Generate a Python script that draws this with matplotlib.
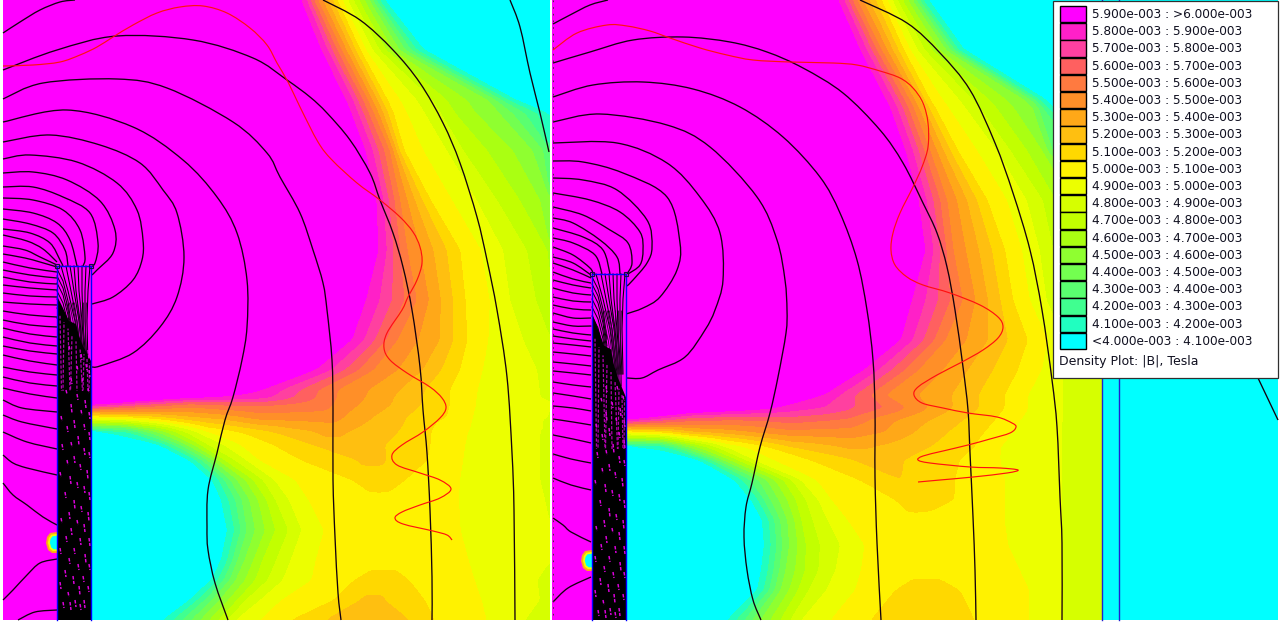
import numpy as np
import matplotlib
matplotlib.use("Agg")
import matplotlib.pyplot as plt
from matplotlib.colors import ListedColormap, BoundaryNorm
from matplotlib.patches import Rectangle, Polygon, PathPatch
from matplotlib.path import Path

# ---------- legend ----------
legend_labels = ["5.900e-003 : >6.000e-003", "5.800e-003 : 5.900e-003", "5.700e-003 : 5.800e-003",
                 "5.600e-003 : 5.700e-003", "5.500e-003 : 5.600e-003", "5.400e-003 : 5.500e-003",
                 "5.300e-003 : 5.400e-003", "5.200e-003 : 5.300e-003", "5.100e-003 : 5.200e-003",
                 "5.000e-003 : 5.100e-003", "4.900e-003 : 5.000e-003", "4.800e-003 : 4.900e-003",
                 "4.700e-003 : 4.800e-003", "4.600e-003 : 4.700e-003", "4.500e-003 : 4.600e-003",
                 "4.400e-003 : 4.500e-003", "4.300e-003 : 4.400e-003", "4.200e-003 : 4.300e-003",
                 "4.100e-003 : 4.200e-003", "<4.000e-003 : 4.100e-003"]
legend_colors = ["#ff00ff", "#ff20c8", "#ff40a0", "#ff6060", "#ff7a40", "#ff8f28", "#ffa818", "#ffbf10",
                 "#ffd800", "#fff200", "#ecff00", "#d6ff00", "#c2ff00", "#aaff12", "#8fff30", "#73ff50",
                 "#5aff70", "#40ff90", "#20ffc0", "#00ffff"]
legend_title = "Density Plot: |B|, Tesla"
levels = [0, 4.1, 4.2, 4.3, 4.4, 4.5, 4.6, 4.7, 4.8, 4.9, 5.0, 5.1, 5.2, 5.3, 5.4, 5.5, 5.6, 5.7, 5.8, 5.9, 9]

# ---------- |B| profiles, mT, read along pixel rows: (row y, [(x, value), ...]) ----------
left_profiles = [
    (0,   [(92, 6.6), (303, 5.9), (318, 5.5), (340, 5.05), (370, 4.5), (383, 4.1), (550, 3.6)]),
    (50,  [(92, 6.6), (323, 5.9), (342, 5.5), (363, 5.05), (400, 4.5), (423, 4.1), (550, 3.6)]),
    (100, [(92, 6.6), (348, 5.9), (368, 5.5), (387, 5.1), (400, 5.0), (417, 4.9), (433, 4.8), (447, 4.7), (467, 4.6), (490, 4.5), (515, 4.1), (550, 3.9)]),
    (113, [(92, 6.6), (353, 5.9), (374, 5.5), (393, 5.1), (407, 5.0), (425, 4.9), (441, 4.8), (455, 4.7), (476, 4.6), (500, 4.5), (550, 4.1)]),
    (150, [(92, 6.6), (367, 5.9), (390, 5.5), (403, 5.1), (423, 5.0), (447, 4.9), (463, 4.8), (487, 4.7), (513, 4.6), (533, 4.5), (550, 4.33)]),
    (200, [(92, 6.6), (378, 5.9), (400, 5.5), (430, 5.1), (452, 5.0), (477, 4.9), (497, 4.8), (520, 4.7), (550, 4.55)]),
    (250, [(92, 6.6), (380, 5.9), (407, 5.5), (460, 5.1), (481, 5.0), (503, 4.9), (527, 4.8), (548, 4.7), (550, 4.68)]),
    (300, [(92, 6.6), (367, 5.9), (417, 5.5), (465, 5.1), (490, 5.0), (510, 4.9), (536, 4.8), (550, 4.75)]),
    (340, [(92, 6.6), (353, 5.9), (397, 5.5), (440, 5.3), (467, 5.1), (488, 5.0), (523, 4.9), (550, 4.85)]),
    (370, [(92, 6.6), (317, 5.9), (373, 5.5), (423, 5.3), (460, 5.1), (482, 5.0), (537, 4.9), (550, 4.88)]),
    (390, [(92, 6.5), (263, 5.9), (337, 5.5), (400, 5.3), (450, 5.1), (477, 5.0), (540, 4.9), (550, 4.88)]),
    (397, [(92, 6.3), (170, 6.0), (230, 5.9), (263, 5.85), (337, 5.5), (400, 5.28), (450, 5.1), (476, 5.0), (540, 4.9)]),
    (405, [(92, 5.9), (140, 5.7), (190, 5.55), (223, 5.6), (273, 5.6), (323, 5.55), (343, 5.45), (407, 5.25), (450, 5.1), (475, 5.0), (547, 4.9)]),
    (417, [(92, 5.05), (140, 5.15), (190, 5.3), (223, 5.35), (257, 5.45), (333, 5.45), (357, 5.35), (423, 5.15), (447, 5.1), (472, 5.0), (540, 4.9)]),
    (432, [(92, 4.1), (123, 4.15), (157, 4.5), (180, 4.75), (207, 5.0), (240, 5.1), (290, 5.25), (333, 5.33), (373, 5.25), (423, 5.15), (440, 5.05), (468, 5.0), (540, 4.9)]),
    (445, [(92, 3.6), (160, 4.1), (190, 4.55), (207, 4.8), (240, 5.0), (273, 5.1), (333, 5.25), (370, 5.22), (423, 5.15), (438, 5.05), (465, 5.0), (540, 4.9)]),
    (460, [(92, 3.5), (190, 4.1), (207, 4.4), (223, 4.7), (257, 5.0), (300, 5.1), (333, 5.17), (373, 5.22), (420, 5.15), (435, 5.05), (463, 5.0), (540, 4.9)]),
    (480, [(92, 3.5), (213, 4.1), (233, 4.45), (257, 4.75), (280, 4.95), (310, 5.05), (353, 5.1), (373, 5.15), (400, 5.12), (420, 5.05), (460, 5.0), (540, 4.9)]),
    (500, [(92, 3.5), (222, 4.1), (245, 4.45), (275, 4.8), (300, 4.98), (330, 5.05), (380, 5.07), (440, 5.05), (458, 5.0), (520, 4.95), (545, 4.9)]),
    (530, [(92, 3.5), (228, 4.1), (250, 4.45), (275, 4.7), (308, 4.95), (330, 5.02), (390, 5.04), (450, 5.02), (460, 5.0), (550, 4.92)]),
    (560, [(92, 3.5), (222, 4.1), (240, 4.45), (262, 4.7), (290, 4.9), (315, 5.0), (340, 5.04), (385, 5.06), (450, 5.04), (468, 5.0), (550, 4.92)]),
    (580, [(92, 3.5), (212, 4.1), (235, 4.5), (260, 4.75), (290, 4.95), (320, 5.02), (335, 5.05), (353, 5.1), (380, 5.14), (410, 5.1), (430, 5.05), (475, 5.0), (550, 4.88)]),
    (600, [(92, 3.5), (190, 4.1), (215, 4.45), (250, 4.85), (280, 5.0), (310, 5.05), (335, 5.1), (350, 5.18), (370, 5.22), (400, 5.18), (425, 5.1), (440, 5.05), (482, 5.0), (530, 4.92), (550, 4.88)]),
    (620, [(92, 3.6), (163, 4.1), (200, 4.5), (240, 4.95), (280, 5.05), (290, 5.1), (325, 5.2), (370, 5.3), (410, 5.2), (435, 5.1), (450, 5.02), (488, 5.0), (525, 4.9), (550, 4.85)]),
]
right_profiles = [
    (0,   [(627, 6.6), (840, 5.9), (857, 5.5), (885, 5.05), (913, 4.5), (927, 4.1), (1102, 3.6)]),
    (50,  [(627, 6.6), (862, 5.9), (882, 5.5), (907, 5.05), (947, 4.5), (963, 4.1), (1102, 3.6)]),
    (100, [(627, 6.6), (888, 5.9), (910, 5.5), (930, 5.1), (943, 5.0), (960, 4.9), (973, 4.8), (990, 4.7), (1007, 4.6), (1027, 4.5), (1045, 4.1), (1102, 3.8)]),
    (108, [(627, 6.6), (892, 5.9), (914, 5.5), (935, 5.1), (949, 5.0), (966, 4.9), (980, 4.8), (997, 4.7), (1014, 4.6), (1034, 4.5), (1053, 4.1), (1102, 3.9)]),
    (150, [(627, 6.6), (907, 5.9), (930, 5.5), (957, 5.1), (977, 5.0), (997, 4.9), (1010, 4.8), (1027, 4.7), (1043, 4.6), (1053, 4.38), (1102, 4.2)]),
    (200, [(627, 6.6), (920, 5.9), (947, 5.5), (987, 5.1), (1007, 5.0), (1027, 4.9), (1043, 4.8), (1053, 4.72), (1102, 4.4)]),
    (250, [(627, 6.6), (927, 5.9), (953, 5.5), (1005, 5.1), (1022, 5.0), (1040, 4.9), (1053, 4.8), (1102, 4.6)]),
    (300, [(627, 6.6), (913, 5.9), (963, 5.5), (1013, 5.1), (1030, 5.0), (1047, 4.9), (1053, 4.85), (1102, 4.8)]),
    (340, [(627, 6.6), (902, 5.9), (945, 5.5), (988, 5.3), (1028, 5.1), (1048, 5.0), (1062, 4.9), (1102, 4.85)]),
    (370, [(627, 6.6), (865, 5.9), (918, 5.5), (968, 5.3), (1018, 5.1), (1042, 5.0), (1062, 4.9), (1102, 4.85)]),
    (395, [(627, 6.6), (825, 5.9), (885, 5.5), (952, 5.3), (1005, 5.1), (1028, 5.0), (1062, 4.9), (1102, 4.85)]),
    (408, [(627, 6.4), (690, 6.1), (760, 5.95), (795, 5.85), (825, 5.8), (885, 5.6), (940, 5.35), (1000, 5.12), (1028, 5.0), (1062, 4.9), (1102, 4.85)]),
    (420, [(627, 5.9), (665, 5.72), (692, 5.62), (725, 5.6), (757, 5.6), (790, 5.65), (850, 5.58), (880, 5.45), (930, 5.3), (990, 5.12), (1020, 5.0), (1062, 4.9), (1102, 4.85)]),
    (432, [(627, 5.05), (665, 5.15), (692, 5.3), (725, 5.35), (757, 5.42), (790, 5.47), (850, 5.46), (885, 5.4), (930, 5.25), (985, 5.1), (1010, 5.0), (1062, 4.9), (1102, 4.85)]),
    (447, [(627, 4.1), (658, 4.1), (692, 4.55), (725, 4.9), (757, 5.05), (790, 5.2), (850, 5.32), (885, 5.28), (930, 5.2), (975, 5.1), (1000, 5.0), (1062, 4.9), (1102, 4.85)]),
    (460, [(627, 3.6), (700, 4.1), (725, 4.55), (757, 4.95), (790, 5.05), (850, 5.2), (890, 5.22), (940, 5.15), (960, 5.1), (1000, 5.0), (1062, 4.9), (1102, 4.85)]),
    (480, [(627, 3.5), (735, 4.1), (750, 4.3), (775, 4.6), (800, 4.9), (825, 5.05), (860, 5.1), (900, 5.2), (930, 5.15), (955, 5.1), (980, 5.05), (1005, 5.0), (1062, 4.9), (1102, 4.85)]),
    (500, [(627, 3.5), (752, 4.1), (770, 4.4), (800, 4.75), (830, 5.0), (860, 5.05), (890, 5.09), (920, 5.15), (950, 5.12), (965, 5.05), (1005, 5.0), (1062, 4.9), (1102, 4.85)]),
    (520, [(627, 3.5), (763, 4.1), (780, 4.4), (805, 4.75), (835, 4.95), (860, 5.05), (915, 5.07), (960, 5.05), (1005, 5.0), (1062, 4.9), (1102, 4.85)]),
    (545, [(627, 3.5), (765, 4.1), (785, 4.45), (810, 4.75), (850, 4.95), (870, 5.02), (925, 5.04), (1000, 5.02), (1008, 5.0), (1062, 4.9), (1102, 4.85)]),
    (570, [(627, 3.5), (762, 4.1), (785, 4.5), (810, 4.75), (835, 4.9), (860, 5.0), (900, 5.05), (925, 5.07), (1010, 5.02), (1020, 5.0), (1062, 4.9), (1102, 4.85)]),
    (590, [(627, 3.5), (758, 4.1), (780, 4.5), (805, 4.78), (835, 4.95), (855, 5.0), (880, 5.07), (895, 5.1), (920, 5.14), (950, 5.12), (970, 5.08), (1030, 5.0), (1062, 4.9), (1102, 4.85)]),
    (620, [(627, 3.6), (728, 4.1), (760, 4.5), (800, 4.9), (830, 5.0), (855, 5.05), (870, 5.1), (920, 5.18), (975, 5.1), (1000, 5.05), (1030, 5.0), (1062, 4.9), (1102, 4.85)]),
]

# ---------- flux lines, read as pixel positions ----------
left_flux = [
    [(3, 33), (20, 22), (40, 10), (60, 2), (75, 0)],
    [(3, 70), (57, 50), (117, 36), (193, 40), (253, 58), (287, 80), (310, 97), (327, 113), (350, 140), (370, 173), (380, 200), (393, 233), (403, 267), (412, 310), (420, 367), (423, 410), (427, 453), (430, 510), (432, 577), (432, 620)],
    [(323, 0), (360, 20), (393, 50), (420, 83), (443, 123), (460, 163), (477, 217), (487, 260), (497, 310), (507, 377), (512, 453), (514, 510), (515, 620)],
    [(510, 0), (520, 27), (530, 73), (540, 113), (549, 152)],
    [(3, 99), (43, 83), (117, 79), (167, 88), (233, 122), (267, 153), (280, 177), (300, 213), (313, 250), (323, 283), (327, 310), (332, 360), (333, 410), (333, 480), (335, 537), (338, 593), (341, 620)],
    [(3, 122), (67, 110), (133, 127), (183, 160), (217, 197), (237, 233), (247, 280), (247, 327), (242, 360), (233, 397), (225, 420), (217, 453), (208, 490), (207, 527), (208, 550), (215, 583), (228, 620)],
    [(3, 142), (50, 135), (100, 145), (140, 163), (163, 190), (177, 213), (184, 257), (177, 297), (160, 327), (133, 353), (100, 366), (92, 367)],
    [(3, 159), (30, 155), (77, 162), (117, 183), (137, 210), (143, 240), (142, 260), (133, 280), (113, 297), (92, 304)],
    [(3, 173), (33, 172), (67, 180), (100, 201), (115, 230), (113, 253), (97, 270), (92, 275)],
    [(3, 187), (33, 187), (63, 197), (90, 213), (98, 243), (95, 263), (90, 267)],
    [(3, 198), (33, 200), (63, 210), (80, 230), (85, 257), (83, 266)],
    [(3, 209), (33, 213), (57, 223), (70, 240), (77, 266)],
    [(3, 219), (30, 224), (53, 233), (65, 250), (68, 266)],
    [(3, 229), (30, 233), (50, 243), (60, 260), (63, 266)],
    [(3, 235), (27, 241), (43, 249), (57, 262)],
    [(3, 246), (25, 250), (40, 257), (57, 265)],
    [(3, 254), (25, 258), (40, 262), (57, 267)],
    [(3, 262), (30, 268), (57, 272)], [(3, 270), (30, 275), (57, 278)], [(3, 277), (30, 282), (57, 284)],
    [(3, 285), (30, 288), (57, 290)], [(3, 293), (30, 296), (57, 297)], [(3, 302), (30, 304), (57, 305)],
    [(3, 311), (30, 315), (57, 317)], [(3, 320), (30, 325), (57, 327)], [(3, 328), (30, 334), (57, 337)],
    [(3, 337), (30, 343), (57, 346)], [(3, 346), (30, 351), (57, 354)], [(3, 355), (30, 361), (57, 365)],
    [(3, 367), (30, 372), (57, 375)], [(3, 377), (30, 383), (57, 386)], [(3, 388), (30, 394), (57, 398)],
    [(3, 400), (22, 408), (57, 412)], [(3, 415), (22, 422), (57, 429)], [(3, 432), (27, 442), (57, 449)],
    [(3, 455), (13, 463), (27, 468), (57, 475)], [(3, 483), (13, 495), (27, 505), (43, 517), (57, 525)],
    [(3, 600), (13, 590), (27, 575), (40, 563), (57, 559)], [(18, 620), (35, 612), (57, 610)],
]
right_flux = [
    [(553, 24), (570, 15), (590, 5), (608, 0)],
    [(553, 63), (590, 52), (633, 40), (683, 37), (730, 42), (767, 52), (803, 68), (843, 93), (880, 130), (903, 163), (923, 203), (937, 233), (947, 267), (955, 310), (963, 367), (968, 410), (970, 453), (973, 517), (975, 570), (976, 620)],
    [(860, 0), (907, 23), (940, 53), (970, 90), (995, 143), (1013, 193), (1030, 250), (1042, 310), (1052, 380), (1057, 427), (1060, 497), (1062, 543), (1062, 620)],
    [(553, 97), (593, 85), (643, 82), (693, 89), (740, 107), (783, 137), (820, 177), (840, 213), (857, 260), (867, 310), (873, 360), (875, 410), (875, 477), (877, 543), (881, 620)],
    [(553, 122), (600, 114), (667, 125), (710, 147), (757, 197), (777, 240), (785, 280), (787, 310), (786, 333), (778, 377), (770, 413), (760, 447), (752, 483), (746, 507), (744, 537), (747, 570), (753, 600), (761, 620)],
    [(553, 143), (617, 143), (667, 163), (700, 197), (720, 233), (723, 280), (715, 310), (705, 330), (685, 357), (658, 370), (642, 378), (627, 378)],
    [(553, 161), (583, 162), (623, 173), (667, 197), (680, 243), (677, 270), (660, 297), (643, 308), (626, 314)],
    [(553, 178), (583, 180), (617, 190), (647, 220), (652, 247), (647, 263), (633, 280), (627, 286)],
    [(553, 193), (590, 200), (620, 212), (640, 232), (643, 250), (640, 265), (628, 274)],
    [(553, 207), (583, 215), (610, 230), (628, 243), (632, 263), (627, 274)],
    [(553, 218), (573, 223), (600, 240), (617, 257), (620, 274)],
    [(553, 228), (583, 237), (603, 250), (610, 274)],
    [(553, 238), (573, 243), (595, 255), (602, 274)],
    [(553, 247), (573, 255), (590, 268), (593, 274)],
    [(553, 257), (573, 263), (591, 275)],
    [(553, 263), (573, 270), (591, 278)],
    [(553, 272), (573, 279), (591, 283)], [(553, 280), (573, 285), (591, 288)], [(553, 288), (573, 293), (591, 295)],
    [(553, 297), (573, 301), (591, 302)], [(553, 305), (573, 309), (591, 310)], [(553, 313), (573, 318), (591, 318)],
    [(553, 322), (573, 326), (591, 326)], [(553, 329), (573, 333), (591, 335)], [(553, 336), (573, 339), (591, 341)],
    [(553, 343), (573, 345), (591, 347)], [(553, 352), (573, 354), (591, 356)], [(553, 362), (573, 364), (591, 366)],
    [(553, 371), (573, 373), (591, 375)], [(553, 382), (573, 385), (591, 387)], [(553, 393), (573, 396), (591, 399)],
    [(553, 406), (573, 408), (591, 411)], [(553, 419), (573, 422), (591, 425)], [(553, 435), (573, 439), (591, 443)],
    [(553, 454), (571, 459), (591, 463)], [(553, 478), (571, 485), (591, 490)],
    [(553, 518), (563, 525), (571, 532), (591, 542)], [(553, 602), (568, 588), (591, 577)],
]
right_outer_flux = [[(1258, 378), (1278, 420)]]

# ---------- red contour-path lines ----------
left_red = [(3, 66), (33, 65), (60, 62), (80, 55), (97, 47), (113, 37), (133, 25), (157, 13), (180, 7), (203, 6), (227, 13), (250, 28), (267, 45), (277, 63), (288, 82), (300, 107), (318, 142), (332, 160), (357, 183), (380, 200), (400, 217), (413, 232), (420, 247), (422, 263), (417, 280), (408, 297), (402, 310), (387, 333), (384, 348), (390, 360), (407, 373), (430, 387), (442, 398), (446, 408), (440, 418), (423, 432), (402, 445), (392, 455), (397, 465), (420, 473), (440, 480), (451, 489), (440, 498), (420, 505), (402, 512), (395, 518), (403, 524), (433, 531), (447, 535), (452, 540)]
right_red = [(553, 50), (577, 33), (607, 25), (627, 26), (650, 31), (670, 38), (700, 48), (727, 55), (753, 60), (790, 62), (833, 63), (857, 65), (880, 71), (900, 78), (913, 88), (923, 103), (928, 123), (928, 147), (922, 167), (913, 187), (900, 213), (893, 233), (891, 250), (895, 265), (907, 277), (923, 285), (950, 293), (980, 305), (998, 317), (1003, 327), (998, 338), (983, 350), (962, 362), (937, 375), (918, 387), (914, 395), (922, 403), (943, 408), (968, 413), (997, 417), (1012, 423), (1016, 427), (1010, 433), (990, 439), (968, 445), (943, 451), (923, 456), (918, 460), (930, 463), (970, 467), (1000, 468), (1018, 470), (1007, 473), (973, 477), (940, 480), (918, 482)]

# ---------- coil, in pixels relative to its top-left corner ----------
coil_width = 34
coil_dark_edge = [(0, 30), (5, 40), (12, 55), (19, 58), (22, 70), (26, 80), (34, 95)]
coil_fan_y = [0, 25, 55, 100]
coil_fan_x = [[4, 11, 18, 24], [9, 14, 20, 25], [13, 17, 22, 26], [17, 19, 23, 27],
              [21, 22, 25, 28], [25, 25, 26, 29], [29, 28, 28, 30], [33, 31, 30, 31]]
coil_entry_y = [3, 10, 17, 25, 33, 42, 52]
coil_streak_x = [3, 7, 11, 15, 19, 23, 27, 30, 32.5]
coil_streak_slant = [1.5, -1, 2, -1.5, 1, 2.5, -1, 1, -0.5]
coil_streak_phase = [0.3, 2.1, 1.2, 3.0, 0.7, 2.6, 1.6, 0.1, 2.2]
coil_streak_end = [125, 175]
coil_specks = [(15, 60, 6), (25, 62, 8), (28, 75, 7), (20, 72, 5), (31, 84, 9), (24, 88, 6), (12, 80, 4), (29, 98, 6),
               (20, 100, 5), (32, 104, 7), (14, 112, 6), (25, 112, 5), (31, 122, 5), (9, 124, 4), (20, 128, 6), (28, 134, 8),
               (14, 138, 9), (24, 144, 5), (32, 146, 7), (4, 150, 5), (17, 154, 8), (10, 160, 6), (27, 158, 6), (32, 166, 8),
               (21, 170, 9), (14, 176, 5), (5, 178, 6), (27, 182, 7), (32, 186, 6), (17, 190, 7), (10, 194, 5), (23, 198, 6),
               (30, 204, 9), (3, 206, 5), (13, 210, 8), (20, 216, 6), (27, 220, 7), (32, 226, 8), (8, 226, 6), (17, 234, 9),
               (24, 240, 6), (12, 246, 7), (31, 246, 9), (4, 252, 5), (20, 254, 5), (27, 258, 8), (14, 262, 7), (9, 270, 6),
               (23, 272, 7), (32, 272, 8), (17, 282, 6), (3, 282, 6), (28, 288, 9), (12, 292, 6), (21, 298, 6), (32, 298, 6),
               (8, 304, 7), (16, 310, 8), (26, 310, 6), (3, 316, 7), (22, 320, 9), (31, 320, 6), (11, 326, 5), (18, 334, 7),
               (27, 334, 8), (6, 336, 6), (13, 336, 8), (23, 338, 6)]
coil_tops = [(57, 266), (592, 274)]
coil_stretch = [1.0, 1.3]

# ---------- small island beside the coil ----------
blob_outer = [(0, 0), (-7, 1), (-10, 5), (-11, 11), (-9, 18), (-5, 21), (0, 21)]
blob_scales = [1.0, 0.82, 0.65]
blob_colors = ["#ffa818", "#f2ff00", "#00ffff"]
blob_origins = [(57, 532), (592, 550)]

BG = "white"
fig = plt.figure(figsize=(12.87, 6.23), dpi=100, facecolor=BG)
ax = fig.add_axes([0, 0, 1, 1])
ax.set_xlim(0, 1287)
ax.set_ylim(623, 0)
ax.axis("off")

cmap = ListedColormap(legend_colors[::-1])
norm = BoundaryNorm(levels, cmap.N)
value_axis = np.arange(3.4, 6.8, 0.01)
soften = np.array([1, 2, 3, 4, 5, 4, 3, 2, 1], float) / 25


def is_unimodal(vs):
    p = int(np.argmax(vs))
    return bool(np.all(np.diff(vs[:p + 1]) >= 0) and np.all(np.diff(vs[p:]) <= 0))


def iso_positions(xs, vs):
    """Positions of every value on the rising and falling side of one read row."""
    p = int(np.argmax(vs))
    rise = np.interp(value_axis, vs[:p + 1], xs[:p + 1])
    fall = np.interp(value_axis, vs[p:][::-1], xs[p:][::-1])
    return rise, fall, xs[p], vs[p]


def field_image(profiles, x0, x1, y1=620):
    xg = np.arange(x0, x1) + 0.5
    z = np.zeros((y1, len(xg)))
    rows = []
    for y, pairs in profiles:
        xs = np.array([a for a, _ in pairs], float)
        vs = np.array([b for _, b in pairs], float)
        if xs[-1] < x1 + 1:
            xs = np.append(xs, x1 + 1)
            vs = np.append(vs, vs[-1] - 1e-4)
        rows.append((y, xs, vs))
    for (ya, xa, va), (yb, xb, vb) in zip(rows[:-1], rows[1:]):
        pa, pb = int(np.argmax(va)), int(np.argmax(vb))
        bands_follow = is_unimodal(va) and is_unimodal(vb) and ((pa == 0 and pb == 0) or (va[0] <= 4.2 and vb[0] <= 4.2))
        if bands_follow:
            ra, fa, xpa, mpa = iso_positions(xa, va)
            rb, fb, xpb, mpb = iso_positions(xb, vb)
        za = np.interp(xg, xa, va)
        zb = np.interp(xg, xb, vb)
        for yi in range(ya, min(yb, y1)):
            t = (yi + 0.5 - ya) / (yb - ya)
            if bands_follow:
                r = (1 - t) * ra + t * rb
                f = (1 - t) * fa + t * fb
                split = (1 - t) * xpa + t * xpb
                top = (1 - t) * mpa + t * mpb
                line = np.where(xg <= split, np.interp(xg, r, value_axis), np.interp(xg, f[::-1], value_axis[::-1]))
                z[yi] = np.minimum(line, top)
            else:
                z[yi] = (1 - t) * za + t * zb
    n = len(soften) // 2
    wide = np.pad(z, n, mode="edge")
    wide = np.apply_along_axis(lambda c: np.convolve(c, soften, mode="same"), 0, wide)
    wide = np.apply_along_axis(lambda c: np.convolve(c, soften, mode="same"), 1, wide)
    z = wide[n:-n, n:-n]
    ax.imshow(z, extent=(x0, x1, y1, 0), cmap=cmap, norm=norm, interpolation="nearest", aspect="auto", zorder=1)


def smooth_line(points, **kw):
    """Draw read points as one curve through them, using bezier path segments."""
    p = np.array(points, float)
    q = np.vstack([p[0], p, p[-1]])
    verts = [p[0]]
    codes = [Path.MOVETO]
    for i in range(1, len(q) - 2):
        verts += [q[i] + (q[i + 1] - q[i - 1]) / 6, q[i + 1] - (q[i + 2] - q[i]) / 6, q[i + 1]]
        codes += [Path.CURVE4] * 3
    ax.add_patch(PathPatch(Path(verts, codes), fc="none", **kw))


# densities
ax.add_patch(Rectangle((3, 0), 90, 620, fc="#ff00ff", ec="none", zorder=0.5))
ax.add_patch(Rectangle((552, 0), 76, 620, fc="#ff00ff", ec="none", zorder=0.5))
field_image(left_profiles, 92, 550)
field_image(right_profiles, 627, 1102)
ax.add_patch(Rectangle((1102, 0), 176, 620, fc="#00ffff", ec="none", zorder=1))
ax.set_xlim(0, 1287)
ax.set_ylim(623, 0)

# islands
for (ox, oy) in blob_origins:
    for s, c in zip(blob_scales, blob_colors):
        pts = [(ox + px * s, oy + 10.5 + (py - 10.5) * s) for px, py in blob_outer]
        ax.add_patch(Polygon(pts, closed=True, fc=c, ec="none", zorder=2))

# flux lines
for line in left_flux + right_flux + right_outer_flux:
    smooth_line(line, ec="#14000f", lw=0.95, zorder=3)

# coils
for (cx, cy), stretch, streak_end in zip(coil_tops, coil_stretch, coil_streak_end):
    ax.add_patch(Rectangle((cx, cy), coil_width, 620 - cy, fc="#ff00ff", ec="none", zorder=3.1))
    for e in coil_entry_y:
        ax.plot([cx, cx + 6, cx + 11, cx + 15], [cy + e, cy + e + 12, cy + e + 32, cy + e + 62], color="black", lw=0.7, zorder=3.2)
    for fx in coil_fan_x:
        ax.plot([cx + v for v in fx], [cy + v for v in coil_fan_y], color="black", lw=0.75, zorder=3.2)
        ax.plot([cx + v - 1.6 for v in fx[1:]], [cy + v + 12 for v in coil_fan_y[1:]], color="#300030", lw=0.6, zorder=3.2)
    dark = [(cx + a, cy + b * stretch) for a, b in coil_dark_edge] + [(cx + coil_width, 620), (cx, 620)]
    ax.add_patch(Polygon(dark, closed=True, fc="black", ec="none", zorder=3.3))
    for sx, sl, ph in zip(coil_streak_x, coil_streak_slant, coil_streak_phase):
        ax.plot([cx + sx, cx + sx + sl], [cy + 45 * stretch + sx * 1.6 * stretch, cy + streak_end], color="#b000b0", lw=0.9,
                zorder=3.35, linestyle=(ph, (2.6, 1.4)))
    for sx, sy, sl in coil_specks:
        if sy > streak_end * 0.6:
            ax.plot([cx + sx, cx + sx + 1], [cy + sy, cy + sy + sl], color="#e000e0", lw=1.05, zorder=3.4,
                    linestyle=(0, (2.4, 1.0)))
    ax.plot([cx, cx, cx + coil_width, cx + coil_width], [620, cy, cy, 620], color="#0000ff", lw=1.0, zorder=3.5)
    for qx in (cx, cx + coil_width):
        ax.add_patch(Rectangle((qx - 2, cy - 2), 4, 4, fc="none", ec="#101040", lw=0.8, zorder=3.6))

# boundary lines of the right panel
ax.plot([1102, 1102], [0, 620], color="#2020d0", lw=1.0, zorder=3)
ax.plot([1119, 1119], [0, 620], color="#2020d0", lw=1.0, zorder=3)
ax.plot([552.5, 552.5], [0, 620], color="#303030", lw=0.6, dashes=(2, 6), zorder=3)

# red lines
for line in (left_red, right_red):
    smooth_line(line, ec="#ff1010", lw=0.85, zorder=4)

# legend
ax.add_patch(Rectangle((1053, 0.5), 225, 377.5, fc="white", ec="#303030", lw=0.9, zorder=5))
for i, (lab, col) in enumerate(zip(legend_labels, legend_colors)):
    top = 6 + i * 17.2
    ax.add_patch(Rectangle((1059.5, top), 26, 16.4, fc=col, ec="black", lw=1.0, zorder=6))
    ax.text(1092, top + 8.6, lab, fontsize=8.75, va="center", ha="left", color="#101020", family="DejaVu Sans", zorder=6)
ax.text(1059, 362, legend_title, fontsize=9.0, va="center", ha="left", color="#101020", family="DejaVu Sans", zorder=6)

fig.savefig("out.png", dpi=100, facecolor=BG)
